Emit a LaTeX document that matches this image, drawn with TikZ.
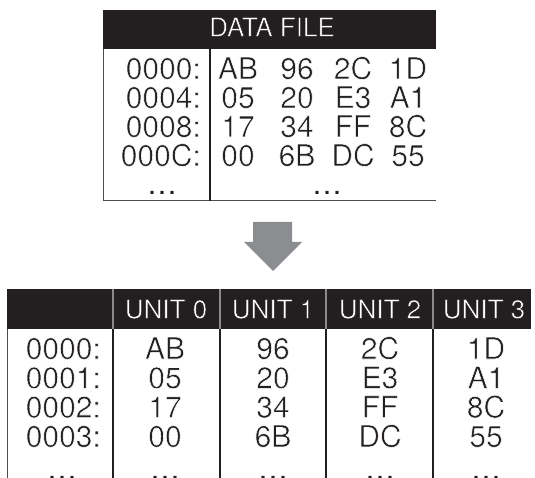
\documentclass[tikz,border=0pt]{standalone}
\usepackage{fontspec}
\setmainfont{TeX Gyre Heros}
\definecolor{ink}{HTML}{231F20}
\definecolor{band}{HTML}{231F20}
\definecolor{arrowgray}{HTML}{8C8D90}
\definecolor{rulegray}{HTML}{8A8A8A}
% light-weight look: fill the glyphs and trim their outline with a stroke
% in the colour of what lies behind them
\newcommand{\lighttext}[2]{\special{pdf:literal direct 2 Tr 0.55 w #1 RG}#2\special{pdf:literal direct 0 Tr}}
\newcommand{\onwhite}[1]{\lighttext{1 1 1}{#1}}
\newcommand{\onband}[1]{\lighttext{0.137 0.122 0.125}{#1}}
\begin{document}
\begin{tikzpicture}[x=1pt,y=-1pt,
  cell/.style={font=\fontsize{30}{30}\selectfont, text=ink, inner sep=0pt, anchor=base},
  addr/.style={cell, anchor=base east},
  head/.style={font=\fontsize{26}{26}\selectfont, text=white, inner sep=0pt, anchor=base},
  border/.style={draw=ink!80, line width=1pt},
  sep/.style={draw=ink, line width=1.6pt},
  hsep/.style={draw=rulegray, line width=1.4pt}]
\path[use as bounding box] (0,0) rectangle (535,478);
\clip (0,0) rectangle (535,478);

% ---- data file ----
\fill[band] (103,10) rectangle (436,49);
\node[head] (dfhead) at (272,36.4) {\onband{DATA FILE}};
\draw[border] (103,49) -- (103,201) -- (436,201);
\draw[sep] (210,49) -- (210,201);
\foreach \a [count=\i from 0] in {0000,0004,0008,000C}
  \node[addr] (fa\i) at (201,79+29*\i) {\onwhite{\a:}};
\foreach \r [count=\i from 0] in {{AB,96,2C,1D},{05,20,E3,A1},{17,34,FF,8C},{00,6B,DC,55}}
  \foreach \v [count=\j from 0] in \r {
    \pgfmathsetmacro{\xx}{{238,297,353,408}[\j]}
    \node[cell] (fd\i\j) at (\xx,79+29*\i) {\onwhite{\v}};
  };
\node[cell] (fadots) at (162,195) {…};
\node[cell] (fddots) at (327,195) {…};

% ---- conversion arrow ----
\fill[arrowgray] (253,222) -- (292,222) -- (292,242) -- (302,242) -- (273,271)
  -- (244,242) -- (253,242) -- cycle;

% ---- per-unit table ----
\fill[band] (7,289) rectangle (531,329);
\foreach \x in {113,220,326,433} {
  \draw[hsep] (\x,289) -- (\x,329);
  \draw[sep] (\x,329) -- (\x,480);
}
\draw[border] (7,329) -- (7,480);
\foreach \u/\x in {0/166,1/273,2/380,3/484}
  \node[head] (uh\u) at (\x,318.4) {\onband{UNIT \u}};
\foreach \a [count=\i from 0] in {0000,0001,0002,0003}
  \node[addr] (ua\i) at (101,359+29.3*\i) {\onwhite{\a:}};
\foreach \r [count=\i from 0] in {{AB,96,2C,1D},{05,20,E3,A1},{17,34,FF,8C},{00,6B,DC,55}}
  \foreach \v [count=\j from 0] in \r {
    \pgfmathsetmacro{\xx}{{165,273,380,486}[\j]}
    \node[cell] (ud\i\j) at (\xx,359+29.3*\i) {\onwhite{\v}};
  };
\foreach \x [count=\k from 0] in {62,165,273,380,486}
  \node[cell] (udots\k) at (\x,479) {…};
\end{tikzpicture}
\end{document}
